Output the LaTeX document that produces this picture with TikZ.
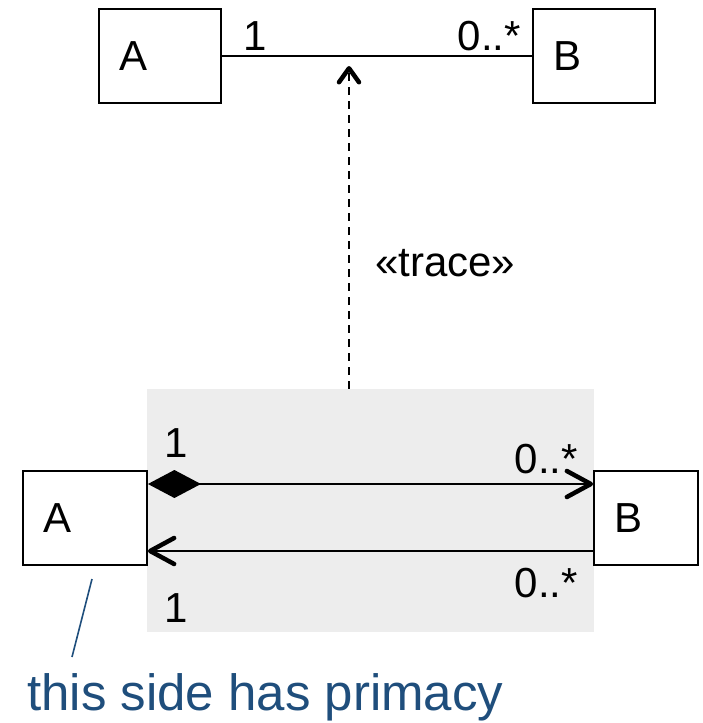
\documentclass[tikz,border=0pt]{standalone}
\usepackage{fontspec}
\setmainfont{Liberation Sans}
\usetikzlibrary{arrows.meta}
\definecolor{notec}{RGB}{31,78,124}
\definecolor{bgc}{RGB}{237,237,237}
\tikzset{
  cls/.style={draw=black, line width=1.8pt, fill=white, minimum height=94pt, inner xsep=20pt, inner ysep=0pt, align=left, font=\fontsize{42pt}{48pt}\selectfont},
  lbl/.style={inner sep=0pt, font=\fontsize{42pt}{48pt}\selectfont},
  assoc/.style={line width=1.8pt},
  bigbarb/.tip={Straight Barb[length=24pt, width=26pt, line width=4.5pt, round]},
  smallbarb/.tip={Straight Barb[length=14pt, width=20pt, line width=4.5pt, round]},
}
\begin{document}
\begin{tikzpicture}[x=1pt, y=-1pt]
\useasboundingbox (0,0) rectangle (703,723);
% grey background
\node[fill=bgc, inner sep=0pt, minimum width=447pt, minimum height=243pt] (bg) at (370.5,510.5) {};
% top classes
\node[cls, text width=82pt] (tA) at (160,56) {A};
\node[cls, text width=82pt] (tB) at (594,56) {B};
\draw[assoc] (tA.east) -- (tB.west);
\node[lbl, anchor=base west] (t1) at (243,50) {1};
\node[lbl, anchor=base east] (tm) at (521,50) {0..*};
% dependency
\coordinate (tip) at (349,66);
\draw[line width=1.8pt, dash pattern=on 8pt off 6pt, -smallbarb] (bg.north -| tip) -- (tip);
\node[lbl, anchor=base west] (tr) at (375,276) {«trace»};
% bottom classes
\node[cls, text width=84pt] (bA) at (85,518) {A};
\node[cls, text width=64pt] (bB) at (646,518) {B};
\draw[assoc, {Diamond[length=53pt, width=28pt, line width=0pt]}-bigbarb] (bA.east |- 0,484) -- (bB.west |- 0,484);
\draw[assoc, -bigbarb] (bB.west |- 0,551) -- (bA.east |- 0,551);
\node[lbl, anchor=base west] (b1) at (164,457) {1};
\node[lbl, anchor=base east] (bm1) at (578,473) {0..*};
\node[lbl, anchor=base east] (bm2) at (578,597) {0..*};
\node[lbl, anchor=base west] (b2) at (164,622) {1};
% note
\node[inner sep=0pt, anchor=base west, text=notec, font=\fontsize{51pt}{58pt}\selectfont] (note) at (27,710) {this side has primacy};
\coordinate (n1) at (92,579);
\coordinate (n2) at (72,657);
\draw[notec, line width=1.6pt] (n1) -- (n2);
\end{tikzpicture}
\end{document}
